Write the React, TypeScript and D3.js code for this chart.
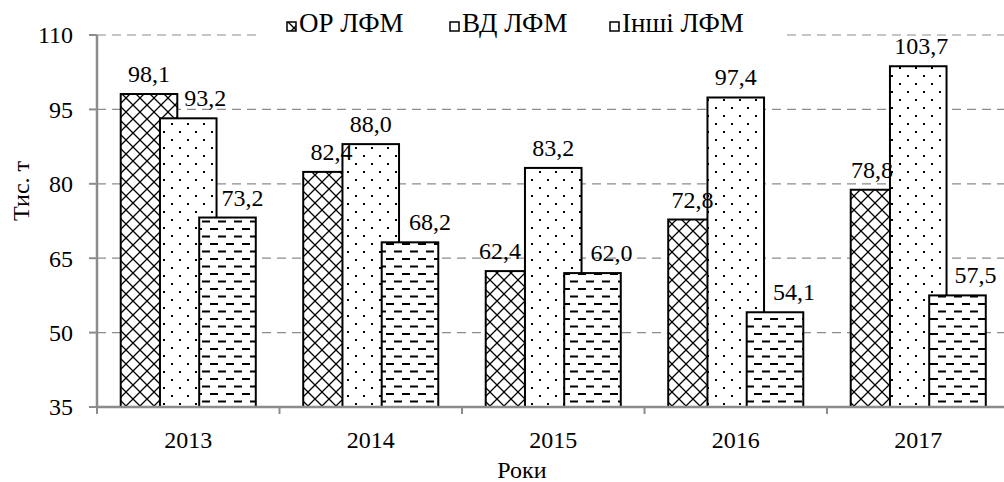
import React from "react";
import * as d3 from "d3";

const years = ["2013", "2014", "2015", "2016", "2017"];
const orValues = [98.1, 82.4, 62.4, 72.8, 78.8];
const vdValues = [93.2, 88.0, 83.2, 97.4, 103.7];
const otherValues = [73.2, 68.2, 62.0, 54.1, 57.5];
const seriesNames = ["ОР ЛФМ", "ВД ЛФМ", "Інші ЛФМ"];
const yTicks = [35, 50, 65, 80, 95, 110];
const labelNudge = [
  [0, 17, 15],
  [0, 0, 20],
  [-14, 0, 19],
  [-4, 0, 19],
  [-7, 3, 18],
];

const W = 1004;
const H = 482;
const FONT = "Liberation Serif, Times New Roman, DejaVu Serif, serif";
const fmt = (v: number) => v.toFixed(1).replace(".", ",");
const ts: React.CSSProperties = { fontFamily: FONT, fontSize: "24px" };
const tsLegend: React.CSSProperties = { fontFamily: FONT, fontSize: "27px" };

export default function App() {
  const x = d3.scaleBand<string>().domain(years).range([97, 1009.5]).paddingInner(0).paddingOuter(0);
  const y = d3.scaleLinear().domain([35, 110]).range([407, 35]);
  const bw = x.bandwidth();
  const barW = bw * 0.31;
  const step = bw * 0.215;
  const groupW = 2 * step + barW;
  const series = [orValues, vdValues, otherValues];
  const fills = ["url(#pCross)", "url(#pDots)", "url(#pDash)"];

  const bars: React.ReactElement[] = [];
  const labels: React.ReactElement[] = [];
  series.forEach((vals, si) => {
    vals.forEach((v, i) => {
      const x0 = (x(years[i]) as number) + bw / 2 - groupW / 2 + si * step;
      const top = y(v);
      bars.push(
        <rect key={`b${si}-${i}`} x={x0} y={top} width={barW} height={y(35) - top}
          fill={fills[si]} stroke="#000" strokeWidth={2} />
      );
      labels.push(
        <text key={`l${si}-${i}`} x={x0 + barW / 2 + labelNudge[i][si]} y={top - 12}
          textAnchor="middle" style={ts} fill="#000">{fmt(v)}</text>
      );
    });
  });

  const legendX = [287, 450, 610];

  return (
    <svg width={W} height={H} style={{ position: "absolute", left: 0, top: 0, background: "#fff" }}>
      <defs>
        <pattern id="pCross" patternUnits="userSpaceOnUse" width={14} height={14}>
          <rect width={14} height={14} fill="#fff" />
          <path d="M0,0L14,14M14,0L0,14" stroke="#000" strokeWidth={1.3} />
        </pattern>
        <pattern id="pDots" patternUnits="userSpaceOnUse" width={16} height={16}>
          <rect width={16} height={16} fill="#fff" />
          <rect x={3} y={3} width={2} height={2} fill="#000" />
          <rect x={11} y={11} width={2} height={2} fill="#000" />
        </pattern>
        <pattern id="pDash" patternUnits="userSpaceOnUse" width={16} height={15}>
          <rect width={16} height={15} fill="#fff" />
          <rect x={2} y={3} width={8} height={2} fill="#000" />
          <rect x={10} y={10.5} width={8} height={2} fill="#000" />
          <rect x={-6} y={10.5} width={8} height={2} fill="#000" />
        </pattern>
      </defs>
      <rect x={0} y={0} width={W} height={H} fill="#fff" />
      {yTicks.filter((t) => t !== 35).map((t) => (
        <line key={`g${t}`} x1={97} x2={W} y1={y(t)} y2={y(t)} stroke="#8c8c8c" strokeWidth={1.2} strokeDasharray="9,6" />
      ))}
      {bars}
      {labels}
      <line x1={97} x2={97} y1={y(110)} y2={y(35)} stroke="#8c8c8c" strokeWidth={2.5} />
      <line x1={97} x2={W} y1={y(35)} y2={y(35)} stroke="#8c8c8c" strokeWidth={2.5} />
      {yTicks.map((t) => (
        <g key={`t${t}`}>
          <line x1={89} x2={97} y1={y(t)} y2={y(t)} stroke="#8c8c8c" strokeWidth={2} />
          <text x={73} y={y(t)} dy="0.35em" textAnchor="end" style={ts}>{t}</text>
        </g>
      ))}
      {years.map((yr) => (
        <g key={`x${yr}`}>
          <line x1={x(yr) as number} x2={x(yr) as number} y1={y(35)} y2={y(35) + 7} stroke="#8c8c8c" strokeWidth={2} />
          <text x={(x(yr) as number) + bw / 2} y={448} textAnchor="middle" style={ts}>{yr}</text>
        </g>
      ))}
      <text x={522} y={478} textAnchor="middle" style={ts}>Роки</text>
      <text transform={`translate(21,191) rotate(-90)`} textAnchor="middle" dominantBaseline="central" style={ts}>Тис. т</text>
      <rect x={260} y={0} width={522} height={40} fill="#fff" />
      {seriesNames.map((n, si) => (
        <g key={`lg${si}`}>
          <rect x={legendX[si]} y={22} width={9} height={9} fill={fills[si]} stroke="#000" strokeWidth={1.5} />
          <text x={legendX[si] + 12} y={32} style={tsLegend}>{n}</text>
        </g>
      ))}
    </svg>
  );
}
